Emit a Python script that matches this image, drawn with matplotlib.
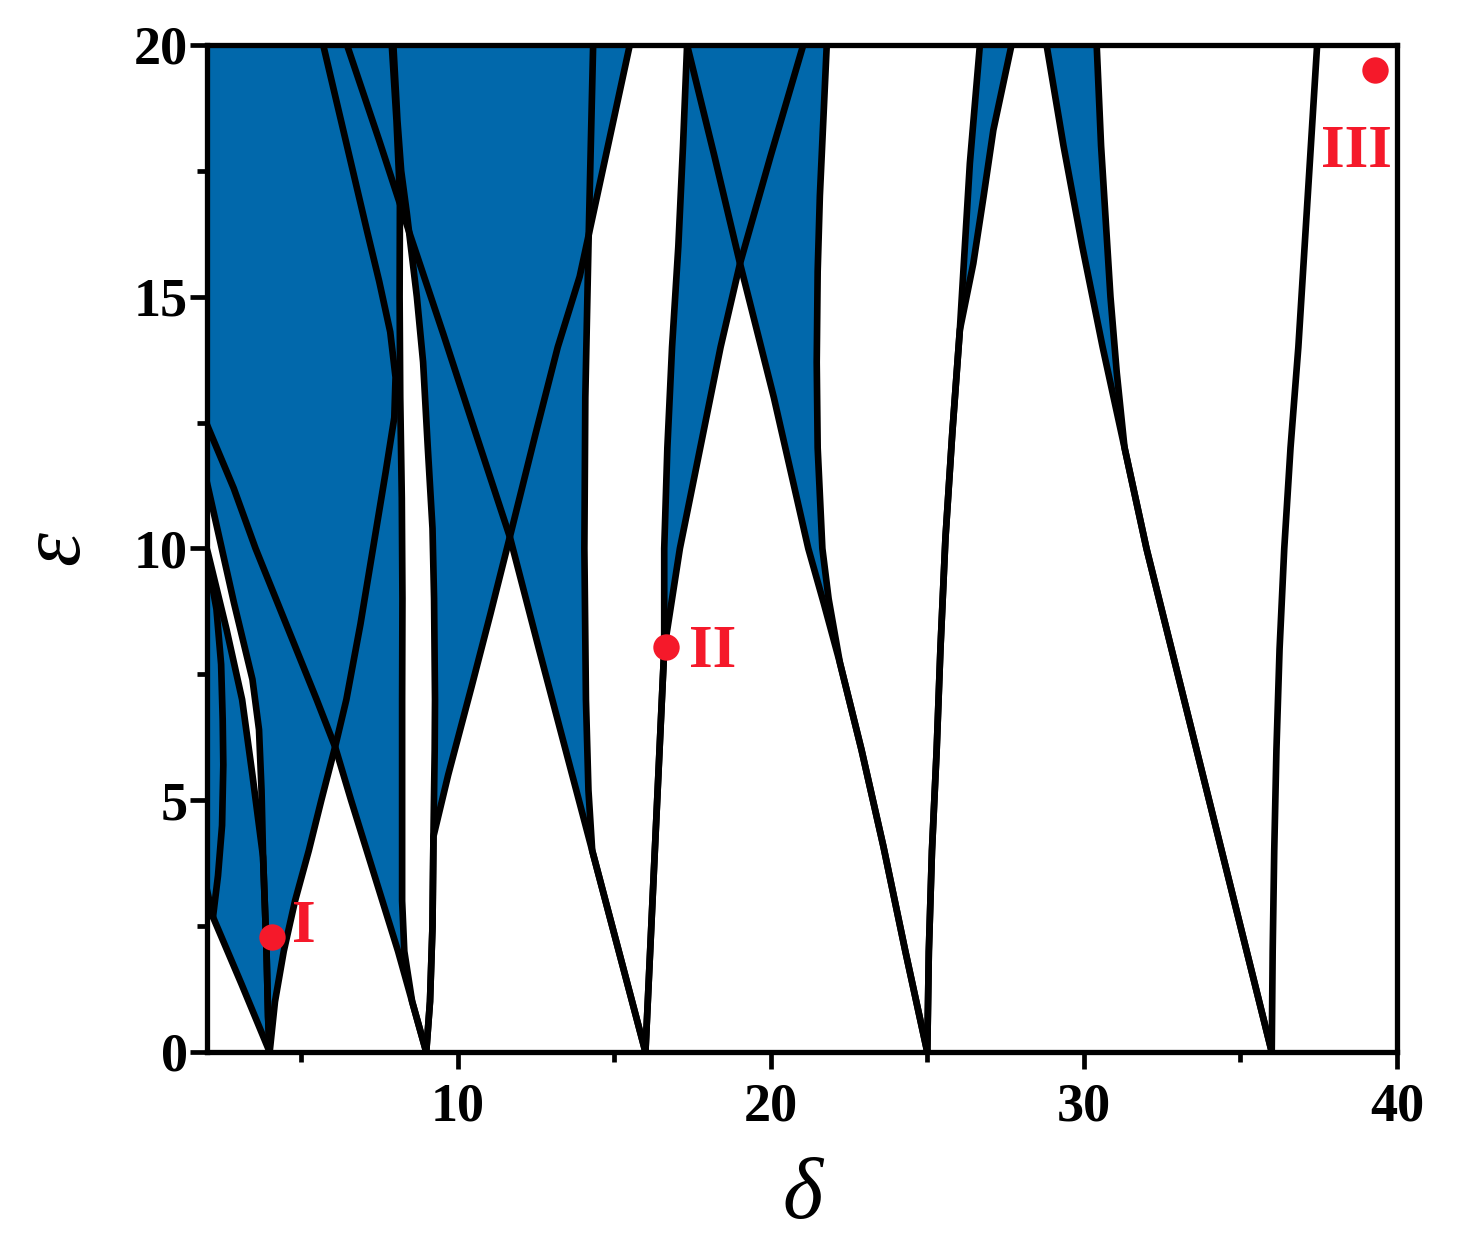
import matplotlib.pyplot as plt
import numpy as np

# Transition curves as (delta, eps) points, each from eps=0 up to eps=20.
# Points with delta < 2 lie left of the frame; they only close the shaded bands.

# curves leaving delta = 4
c4_diag = [(4.0, 0.0), (3.1, 1.35), (2.19, 2.68), (-4.0, 20.0)]
c4_bulge = [(2.19, 2.68), (2.35, 3.5), (2.48, 4.5), (2.52, 5.7), (2.5, 6.6), (2.45, 7.7),
            (2.3, 8.8), (2.05, 9.65), (1.8, 10.2)]
c4_inner_left = [(4.0, 0.0), (3.95, 0.7), (3.9, 2.0), (3.79, 3.87), (3.45, 5.5), (3.12, 7.0),
                 (2.62, 8.4), (2.03, 9.91), (-2.5, 20.0)]
c4_inner_right = [(4.0, 0.0), (3.95, 0.7), (3.9, 2.0), (3.79, 3.87), (3.74, 5.2), (3.66, 6.4),
                  (3.45, 7.4), (2.86, 8.92), (2.03, 11.22), (-1.2, 20.0)]
c4_outer_right = [(4.0, 0.0), (4.17, 1.0), (4.45, 2.0), (4.81, 3.0), (5.25, 4.0), (5.65, 5.0),
                  (6.09, 6.06), (6.45, 7.0), (6.9, 8.5), (7.3, 10.0), (7.7, 11.5), (7.98, 12.6),
                  (8.02, 13.4), (7.85, 14.3), (7.5, 15.3), (7.1, 16.33), (6.35, 18.31),
                  (5.71, 20.0)]

# curves leaving delta = 9
c9_outer_left = [(9.0, 0.0), (8.55, 1.0), (8.1, 2.0), (7.6, 3.0), (7.1, 4.0), (6.6, 5.0),
                 (6.09, 6.06), (5.5, 7.0), (4.85, 8.0), (4.2, 9.0), (3.55, 10.0), (2.85, 11.2),
                 (2.03, 12.41), (-3.0, 20.0)]
c9_inner_left = [(9.0, 0.0), (8.55, 1.0), (8.3, 2.0), (8.23, 3.0), (8.23, 5.0), (8.23, 7.0),
                 (8.24, 9.0), (8.22, 11.0), (8.17, 13.0), (8.15, 15.0), (8.16, 17.0),
                 (8.05, 18.5), (7.9, 20.0)]
c9_inner_right = [(9.0, 0.0), (9.12, 1.0), (9.2, 2.5), (9.23, 4.28), (9.27, 6.0), (9.28, 7.0),
                  (9.25, 9.0), (9.2, 10.4), (9.05, 12.0), (8.9, 13.7), (8.7, 15.0),
                  (8.38, 16.66), (8.2, 17.5), (8.08, 18.5), (7.95, 20.0)]
c9_outer_right = [(9.0, 0.0), (9.12, 1.0), (9.2, 2.5), (9.23, 4.28), (9.7, 5.5), (10.45, 7.26),
                  (11.05, 8.7), (11.67, 10.23), (12.5, 12.3), (13.2, 14.0), (13.9, 15.4),
                  (14.7, 17.7), (15.5, 20.0)]

# curves leaving delta = 16
c16_outer_left = [(16.0, 0.0), (15.15, 2.0), (14.3, 4.0), (13.45, 6.0), (12.6, 8.0),
                  (11.67, 10.23), (10.6, 12.25), (9.55, 14.25), (8.5, 16.2), (7.5, 18.1),
                  (6.47, 20.0)]
c16_inner_left = [(16.0, 0.0), (15.15, 2.0), (14.3, 4.0), (14.18, 5.2), (14.1, 7.0),
                  (14.05, 10.0), (14.08, 13.0), (14.18, 16.0), (14.33, 20.0)]
c16_inner_right = [(16.0, 0.0), (16.15, 2.0), (16.3, 4.0), (16.45, 6.0), (16.6, 8.0),
                   (16.6, 10.0), (16.7, 12.0), (16.85, 14.0), (17.05, 16.0), (17.2, 18.0),
                   (17.33, 20.0)]
c16_outer_right = [(16.0, 0.0), (16.15, 2.0), (16.3, 4.0), (16.45, 6.0), (16.6, 8.0),
                   (17.1, 10.0), (17.75, 12.0), (18.4, 14.0), (19.02, 15.66), (20.0, 17.8),
                   (21.04, 20.0)]

# curves leaving delta = 25
c25_outer_left = [(25.0, 0.0), (24.3, 2.0), (23.6, 4.08), (22.9, 6.0), (22.21, 7.73),
                  (21.7, 8.9), (21.2, 10.0), (20.1, 13.0), (19.02, 15.66), (18.2, 17.8),
                  (17.33, 20.0)]
c25_inner_left = [(25.0, 0.0), (24.3, 2.0), (23.6, 4.08), (22.9, 6.0), (22.21, 7.73),
                  (21.85, 9.0), (21.65, 10.0), (21.5, 12.0), (21.47, 13.7), (21.5, 15.5),
                  (21.57, 17.0), (21.79, 20.0)]
c25_inner_right = [(25.0, 0.0), (25.05, 2.0), (25.15, 4.0), (25.3, 6.0), (25.42, 8.0),
                   (25.58, 10.2), (25.8, 12.3), (26.04, 14.34), (26.2, 16.0), (26.36, 17.65),
                   (26.68, 20.0)]
c25_outer_right = [(25.0, 0.0), (25.05, 2.0), (25.15, 4.0), (25.3, 6.0), (25.42, 8.0),
                   (25.58, 10.2), (25.8, 12.3), (26.04, 14.34), (26.47, 15.66), (26.8, 17.0),
                   (27.11, 18.31), (27.69, 20.0)]

# curves leaving delta = 36
c36_outer_left = [(36.0, 0.0), (35.2, 2.0), (34.4, 4.0), (33.6, 6.0), (32.8, 8.0),
                  (32.0, 10.0), (31.3, 12.0), (30.6, 14.0), (29.95, 16.0), (29.35, 18.0),
                  (28.81, 20.0)]
c36_inner_left = [(36.0, 0.0), (35.2, 2.0), (34.4, 4.0), (33.6, 6.0), (32.8, 8.0),
                  (32.0, 10.0), (31.3, 12.0), (31.05, 13.5), (30.85, 15.0), (30.7, 16.5),
                  (30.55, 18.0), (30.41, 20.0)]
c36_right = [(36.0, 0.0), (36.03, 2.0), (36.08, 4.0), (36.15, 6.0), (36.25, 8.0), (36.4, 10.0),
             (36.6, 12.0), (36.85, 14.0), (37.05, 16.0), (37.25, 18.0), (37.45, 20.0)]

# shaded bands: region between the two curves of each pair
bands = [
    (c4_diag, c4_inner_left), (c4_outer_right, c4_inner_right),
    (c9_outer_left, c9_inner_left), (c9_outer_right, c9_inner_right),
    (c16_outer_left, c16_inner_left), (c16_outer_right, c16_inner_right),
    (c25_outer_left, c25_inner_left), (c25_outer_right, c25_inner_right),
    (c36_outer_left, c36_inner_left),
]
curves = [c4_diag, c4_bulge, c4_inner_left, c4_inner_right, c4_outer_right,
          c9_outer_left, c9_inner_left, c9_inner_right, c9_outer_right,
          c16_outer_left, c16_inner_left, c16_inner_right, c16_outer_right,
          c25_outer_left, c25_inner_left, c25_inner_right, c25_outer_right,
          c36_outer_left, c36_inner_left, c36_right]

# marked points
point_names = ['I', 'II', 'III']
point_delta = [4.08, 16.65, 39.29]
point_eps = [2.28, 8.05, 19.5]

blue = '#0168ab'
red = '#f5192a'
serif = ['Liberation Serif', 'DejaVu Serif']

fig = plt.figure(figsize=(14.59, 12.6), dpi=100)
ax = fig.add_axes([0.1419, 0.1651, 0.8156, 0.7992])

for outer, inner in bands:
    pts = np.array(outer + inner[::-1])
    ax.fill(pts[:, 0], pts[:, 1], color=blue, lw=0, zorder=1)

for c in curves:
    pts = np.array(c)
    ax.plot(pts[:, 0], pts[:, 1], color='black', lw=4.8, solid_joinstyle='round',
            solid_capstyle='round', zorder=2)

ax.plot(point_delta, point_eps, 'o', color=red, ms=19, mec='none', zorder=4, clip_on=False)
label_offsets = [(14, 7, 'left'), (17, -4, 'left'), (-13, -59, 'center')]
for name, d, e, (dx, dy, ha) in zip(point_names, point_delta, point_eps, label_offsets):
    ax.annotate(name, (d, e), xytext=(dx, dy), textcoords='offset points', ha=ha, va='center',
                color=red, fontsize=44, fontweight='bold', family=serif, zorder=5)

ax.set_xlim(2, 40)
ax.set_ylim(0, 20)
ax.set_xticks([10, 20, 30, 40])
ax.set_xticks([5, 15, 25, 35], minor=True)
ax.set_yticks([0, 5, 10, 15, 20])
ax.set_yticks([2.5, 7.5, 12.5, 17.5], minor=True)

for s in ax.spines.values():
    s.set_linewidth(3.8)
    s.set_zorder(6)
ax.tick_params(which='major', direction='out', length=12, width=3.4, labelsize=39, pad=2)
ax.tick_params(which='minor', direction='out', length=7, width=3.4)
ax.tick_params(axis='x', which='major', pad=10)
for lab in ax.get_xticklabels() + ax.get_yticklabels():
    lab.set_family(serif)
    lab.set_fontweight('bold')

ax.set_xlabel('δ', family=serif, style='italic', fontsize=62, labelpad=18)
ax.set_ylabel('ε', family=serif, style='italic', fontsize=62, labelpad=26)

fig.savefig('out.png', dpi=100)
